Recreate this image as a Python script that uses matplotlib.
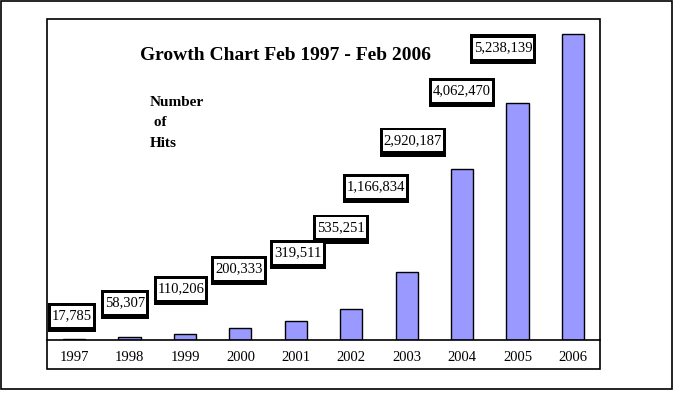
import matplotlib
matplotlib.use("Agg")
import matplotlib.pyplot as plt
from matplotlib.patches import Rectangle

# DATA
years = ["1997", "1998", "1999", "2000", "2001", "2002", "2003", "2004", "2005", "2006"]
hits = [17785, 58307, 110206, 200333, 319511, 535251, 1166834, 2920187, 4062470, 5238139]

# where the value boxes sit (pixel centre, from top-left of the picture)
box_x = [72, 125, 181, 239, 298, 341, 376, 413, 462, 503]
box_y = [316, 303, 289, 269, 253, 228, 187, 141, 91, 48]

W, H = 674, 393
serif = "Liberation Serif"

fig = plt.figure(figsize=(W / 100, H / 100), dpi=100)
fig.patch.set_facecolor("white")


def rect_px(x0, y0, x1, y1, lw, fill=None, z=0):
    # x/y in pixels from top-left
    r = Rectangle((x0 / W, 1 - y1 / H), (x1 - x0) / W, (y1 - y0) / H,
                  transform=fig.transFigure, fill=fill is not None,
                  facecolor=fill if fill else "none",
                  edgecolor="black", linewidth=lw, zorder=z)
    fig.patches.append(r)


# outer and inner frames
rect_px(1, 1, 672, 389, 1.2)
rect_px(47, 19, 600, 369, 1.2)

# axes: bottom edge is the baseline
ax = fig.add_axes([47 / W, 1 - 340 / H, 553 / W, 321 / H])
ax.set_facecolor("none")
x = list(range(len(years)))
ax.bar(x, hits, width=0.4, color="#9999ff", edgecolor="black", linewidth=1.0)
ax.set_xlim(-0.49, 9.49)
ax.set_ylim(0, hits[-1] * 321 / 306)
ax.set_xticks(x)
ax.set_xticklabels(years, fontname=serif, fontsize=10.5)
ax.tick_params(axis="x", length=0, pad=8)
ax.set_yticks([])
for s in ["left", "right", "top"]:
    ax.spines[s].set_visible(False)
ax.spines["bottom"].set_linewidth(1.2)

# value boxes
renderer = fig.canvas.get_renderer()
for v, px, py in zip(hits, box_x, box_y):
    t = fig.text(px / W, 1 - (py - 0.5) / H, f"{v:,}", ha="center", va="center",
                 fontname=serif, fontsize=10.5, color="black", zorder=5)
    half_w = t.get_window_extent(renderer).width / 2 + 1
    # black under-box: 3px frame, heavier bottom edge
    rect_px(px - half_w - 3, py - 13.5, px + half_w + 3, py + 15.5, 0, fill="black", z=3)
    rect_px(px - half_w, py - 10.5, px + half_w, py + 10.5, 0, fill="white", z=4)

# titles
fig.text(286 / W, 1 - 56 / H, "Growth Chart Feb 1997 - Feb 2006", ha="center", va="center",
         fontname=serif, fontsize=14, fontweight="bold")
fig.text(150 / W, 1 - 123 / H, "Number\n of\nHits", ha="left", va="center",
         fontname=serif, fontsize=11, fontweight="bold", linespacing=1.75)

fig.savefig("out.png", dpi=100)
